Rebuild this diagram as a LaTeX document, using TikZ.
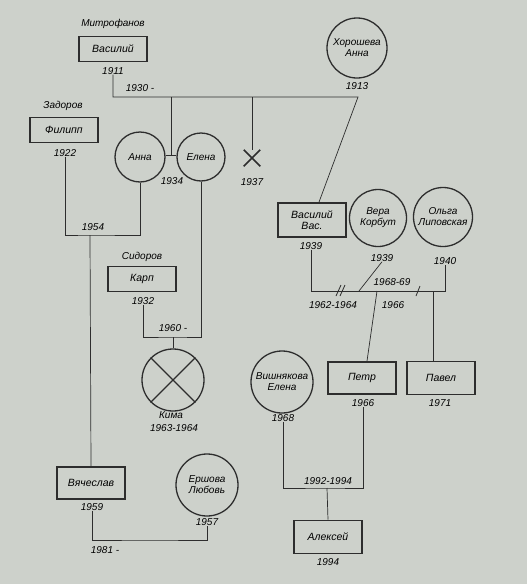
\documentclass[tikz,border=0pt]{standalone}
\usepackage{fontspec}
\setmainfont{Liberation Sans}
\usetikzlibrary{shapes.misc}
\definecolor{paper}{RGB}{205,209,203}
\definecolor{ink}{RGB}{45,45,45}
\tikzset{
	male/.style={draw=ink, line width=1.8pt, minimum width=68pt, minimum height=25pt,
		inner sep=0pt, align=center, font=\fontsize{10.5}{11.5}\selectfont\itshape},
	female/.style={draw=ink, line width=1.3pt, circle, minimum size=#1, inner sep=0pt,
		align=center, font=\fontsize{10}{11}\selectfont\itshape},
	female/.default=52pt,
	year/.style={inner sep=0pt, font=\fontsize{10}{11}\selectfont\itshape},
	family/.style={inner sep=0pt, font=\fontsize{10}{11}\selectfont\itshape},
	link/.style={draw=ink, line width=0.7pt},
	slash/.style={draw=ink, line width=0.8pt}
}
\begin{document}
\begin{tikzpicture}[x=1pt,y=-1pt]

	\fill[paper] (0,0) rectangle (527,584);
	\useasboundingbox (0,0) rectangle (527,584);

	% first generation
	\node[family] (mitr) at (113,24) {Митрофанов};
	\node[male] (vasilij) at (113,49) {Василий};
	\node[year] (y11) at (113,71) {1911};
	\node[female=60pt] (khor) at (357,48) {Хорошева\\Анна};
	\node[year] (y13) at (357,86) {1913};

	\node[family] (zador) at (63,106) {Задоров};
	\node[male] (filipp) at (64,130) {Филипп};
	\node[year] (y22) at (65,153) {1922};

	\node[female=50pt] (anna) at (140,157) {Анна};
	\node[female=48pt] (elena) at (201,157) {Елена};
	\node[year] (y34) at (172,181) {1934};
	\node[draw=ink, cross out, line width=1.5pt, minimum size=15pt, inner sep=0pt] (dead) at (252,158) {};
	\node[year] (y37) at (252,182) {1937};

	\node[family] (sidor) at (142,257) {Сидоров};
	\node[male] (karp) at (142,279) {Карп};
	\node[year] (y32) at (143,301) {1932};

	\node[draw=ink, circle, line width=1.3pt, minimum size=62pt, inner sep=0pt] (kima) at (173,380) {};
	\node[year] (nkima) at (171,415) {Кима};
	\node[year] (y63) at (174,428) {1963-1964};

	\node[male, minimum height=32pt] (slava) at (91,483) {Вячеслав};
	\node[year] (y59) at (92,507) {1959};
	\node[female=62pt] (ersh) at (207,485) {Ершова\\Любовь};
	\node[year] (y57) at (207,522) {1957};

	% second family
	\node[male, minimum height=34pt] (vasvas) at (312,220) {Василий\\Вас.};
	\node[year] (y39a) at (311,246) {1939};
	\node[female=57pt] (vera) at (378,218) {Вера\\Корбут};
	\node[year] (y39b) at (382,258) {1939};
	\node[female=59pt] (olga) at (443,217) {Ольга\\Липовская};
	\node[year] (y40) at (445,261) {1940};

	\node[male, minimum height=32pt] (petr) at (362,378) {Петр};
	\node[year] (y66) at (363,403) {1966};
	\node[male, minimum height=33pt] (pavel) at (441,378) {Павел};
	\node[year] (y71) at (440,403) {1971};
	\node[female=62pt] (vishn) at (282,382) {Вишнякова\\Елена};
	\node[year] (y68) at (283,418) {1968};

	\node[male, minimum height=33pt] (aleks) at (328,537) {Алексей};
	\node[year] (y94) at (328,562) {1994};

	% marriages
	\coordinate (m30) at (358,97);
	\coordinate (m54) at (90,235);
	\coordinate (m60) at (173,337);
	\coordinate (m81) at (150,540);
	\coordinate (m62) at (445,291);
	\coordinate (m92) at (327,488);

	\draw[link] (y11.south) |- (m30) -- ([xshift=7pt]vasvas.north);
	\draw[link] (171,97) -- (171,155);
	\draw[link] (anna.east |- 0,155) -- (elena.west |- 0,155);
	\draw[link] (252,97) -- (dead.north);
	\node[year] at (140,88) {1930 -};

	\draw[link] (y22.south) |- (m54) -| (anna.south);
	\draw[link] (m54) -- (slava.north);
	\node[year] at (93,227) {1954};

	\draw[link] (y32.south) |- (m60) -| (elena.south);
	\draw[link] (m60) -- (kima.north);
	\draw[link, line width=1.2pt] (kima.45) -- (kima.225);
	\draw[link, line width=1.2pt] (kima.135) -- (kima.315);
	\node[year] at (173,328) {1960 -};

	\draw[link] (y59.south) |- (m81) -| (y57.south);
	\node[year] at (105,550) {1981 -};

	\draw[link] (y39a.south) |- (m62) -- (y40.south);
	\draw[link] (y39b.south) -- (359,291);
	\draw[link] (377,291) -- ([xshift=5pt]petr.north);
	\draw[link] (433,291) -- ([xshift=-8pt]pavel.north);
	\draw[slash] (336,296) -- (341,285);
	\draw[slash] (340,296) -- (345,285);
	\draw[slash] (416,296) -- (420,286);
	\node[year] at (333,305) {1962-1964};
	\node[year] at (392,282) {1968-69};
	\node[year] at (393,305) {1966};

	\draw[link] (y68.south) |- (m92) -| (y66.south);
	\draw[link] (m92) -- (aleks.north);
	\node[year] at (328,481) {1992-1994};

\end{tikzpicture}
\end{document}
